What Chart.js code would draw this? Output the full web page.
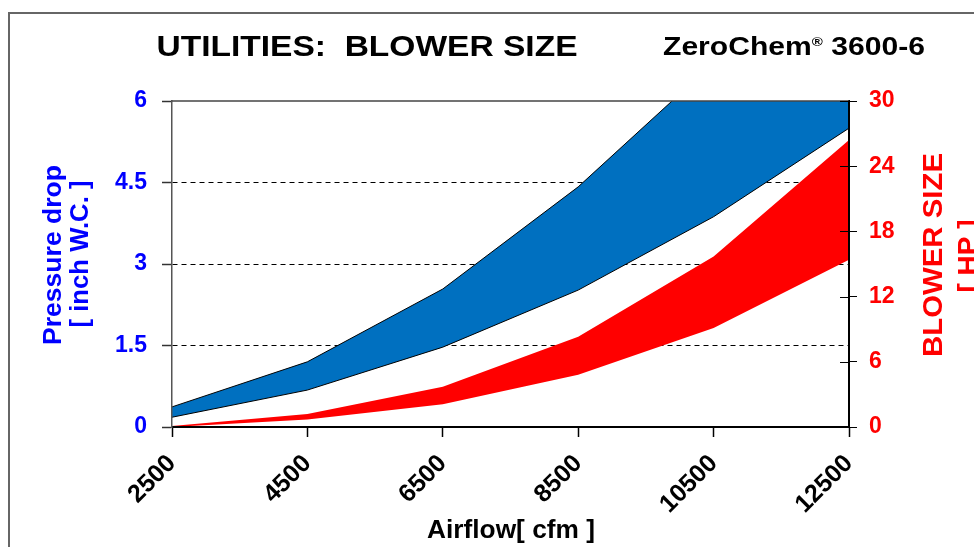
<!DOCTYPE html>
<html>
<head>
<meta charset="utf-8">
<script src="https://cdn.jsdelivr.net/npm/chart.js@4.4.1/dist/chart.umd.min.js"></script>
<style>
  html, body { margin: 0; padding: 0; background: #fff; }
  #wrap { width: 974px; height: 547px; }
</style>
</head>
<body>
<div id="wrap"><canvas id="c" width="974" height="547"></canvas></div>
<script>
// ---- data ----
const airflow = ['2500', '4500', '6500', '8500', '10500', '12500'];
const pressureLow  = [0.18, 0.68, 1.47, 2.52, 3.87, 5.5];
const pressureHigh = [0.37, 1.2, 2.54, 4.42, 6.7, 9.5];
const blowerLow  = [0, 0.7, 2.1, 4.8, 9.1, 15.4];
const blowerHigh = [0.1, 1.2, 3.7, 8.3, 15.7, 26.4];
const pressureTicks = [0, 1.5, 3, 4.5, 6];
const blowerTicks = [0, 6, 12, 18, 24, 30];

const FONT = '"Liberation Sans", Arial, sans-serif';
const BLUE_TXT = '#0000FF';
const RED = '#FF0000';
const BLUE_FILL = '#0070C0';

function fitText(ctx, text, x, y, px, targetW, color, rot) {
  ctx.save();
  ctx.font = 'bold ' + px + 'px ' + FONT;
  const w = ctx.measureText(text).width;
  const sx = targetW ? targetW / w : 1;
  ctx.translate(x, y);
  ctx.rotate(rot || 0);
  ctx.scale(sx, 1);
  ctx.textAlign = 'center';
  ctx.textBaseline = 'alphabetic';
  ctx.fillStyle = color;
  ctx.fillText(text, 0, 0);
  ctx.restore();
}

const decor = {
  id: 'decor',
  beforeDraw(chart) {
    const c = chart.ctx;
    c.save();
    c.fillStyle = '#fff';
    c.fillRect(0, 0, chart.width, chart.height);
    c.strokeStyle = '#666';
    c.lineWidth = 2;
    c.strokeRect(9, 13, 2000, 2000);
    c.restore();
  },
  afterDraw(chart) {
    const c = chart.ctx;
    const a = chart.chartArea;
    // top frame line
    c.save();
    c.strokeStyle = '#444';
    c.lineWidth = 1.5;
    c.beginPath();
    c.moveTo(a.left, a.top);
    c.lineTo(a.right, a.top);
    c.stroke();
    // inner ticks on right axis
    const y2 = chart.scales.y2;
    c.strokeStyle = '#000';
    c.lineWidth = 1;
    blowerTicks.forEach(v => {
      const py = Math.round(y2.getPixelForValue(v)) + 0.5;
      c.beginPath();
      c.moveTo(a.right - 9, py);
      c.lineTo(a.right, py);
      c.stroke();
    });
    c.restore();

    // titles
    fitText(c, 'UTILITIES:  BLOWER SIZE', 367, 56, 30, 421, '#000', 0);

    // subtitle with superscript
    c.save();
    const segs = [
      { t: 'ZeroChem', px: 26, dy: 0 },
      { t: '\u00AE', px: 13, dy: -9 },
      { t: ' 3600-6', px: 26, dy: 0 }
    ];
    let total = 0;
    segs.forEach(s => { c.font = 'bold ' + s.px + 'px ' + FONT; s.w = c.measureText(s.t).width; total += s.w; });
    const sx = 262 / total;
    c.translate(663, 55);
    c.scale(sx, 1);
    c.fillStyle = '#000';
    c.textAlign = 'left';
    c.textBaseline = 'alphabetic';
    let xx = 0;
    segs.forEach(s => { c.font = 'bold ' + s.px + 'px ' + FONT; c.fillText(s.t, xx, s.dy); xx += s.w; });
    c.restore();

    // axis titles
    fitText(c, 'Pressure drop', 61, 255, 25, 180, BLUE_TXT, -Math.PI / 2);
    fitText(c, '[ inch W.C. ]', 88, 254, 25, 147, BLUE_TXT, -Math.PI / 2);
    fitText(c, 'BLOWER SIZE', 942, 255, 28, 204, RED, -Math.PI / 2);
    fitText(c, '[ HP ]', 977, 256, 28, 73, RED, -Math.PI / 2);
    fitText(c, 'Airflow[ cfm ]', 511, 538, 25, 168, '#000', 0);
  }
};

new Chart(document.getElementById('c'), {
  type: 'line',
  data: {
    labels: airflow,
    datasets: [
      { label: 'Pressure low', data: pressureLow, yAxisID: 'y', borderColor: '#000', borderWidth: 1, pointRadius: 0, fill: false, tension: 0 },
      { label: 'Pressure high', data: pressureHigh, yAxisID: 'y', borderColor: '#000', borderWidth: 1, pointRadius: 0, fill: '-1', backgroundColor: BLUE_FILL, tension: 0 },
      { label: 'HP low', data: blowerLow, yAxisID: 'y2', borderColor: RED, borderWidth: 0, pointRadius: 0, fill: false, tension: 0 },
      { label: 'HP high', data: blowerHigh, yAxisID: 'y2', borderColor: RED, borderWidth: 0, pointRadius: 0, fill: '-1', backgroundColor: RED, tension: 0 }
    ]
  },
  options: {
    responsive: false,
    animation: false,
    events: [],
    layout: { padding: { top: 101, left: 0, right: 0, bottom: 0 } },
    plugins: { legend: { display: false }, title: { display: false }, tooltip: { enabled: false } },
    scales: {
      x: {
        type: 'category',
        offset: false,
        afterFit: s => { s.height = 120; },
        grid: { drawOnChartArea: false, drawTicks: true, tickLength: 10, tickColor: '#000', tickWidth: 1.5 },
        border: { color: '#000', width: 2, z: 1 },
        ticks: { maxRotation: 45, minRotation: 45, color: '#000', font: { family: FONT, size: 25, weight: 'bold' }, padding: 12 }
      },
      y: {
        position: 'left',
        min: 0, max: 6,
        afterBuildTicks: s => { s.ticks = pressureTicks.map(v => ({ value: v })); },
        afterFit: s => { s.width = 172; },
        grid: {
          color: ctx => (ctx.tick && (ctx.tick.value === 0 || ctx.tick.value === 6)) ? 'rgba(0,0,0,0)' : '#000',
          lineWidth: 1,
          tickLength: 10,
          tickColor: '#333',
          tickWidth: 1.5
        },
        border: { color: '#555', width: 1.5, dash: [5, 4], z: 1 },
        ticks: { color: BLUE_TXT, font: { family: FONT, size: 23, weight: 'bold' }, padding: 15 }
      },
      y2: {
        position: 'right',
        min: 0, max: 30,
        afterBuildTicks: s => { s.ticks = blowerTicks.map(v => ({ value: v })); },
        afterFit: s => { s.width = 125; },
        grid: { drawOnChartArea: false, tickLength: 8, tickColor: '#000', tickWidth: 1 },
        border: { color: '#000', width: 2, z: 1 },
        ticks: { color: RED, font: { family: FONT, size: 23, weight: 'bold' }, padding: 12 }
      }
    }
  },
  plugins: [decor]
});
</script>
</body>
</html>
